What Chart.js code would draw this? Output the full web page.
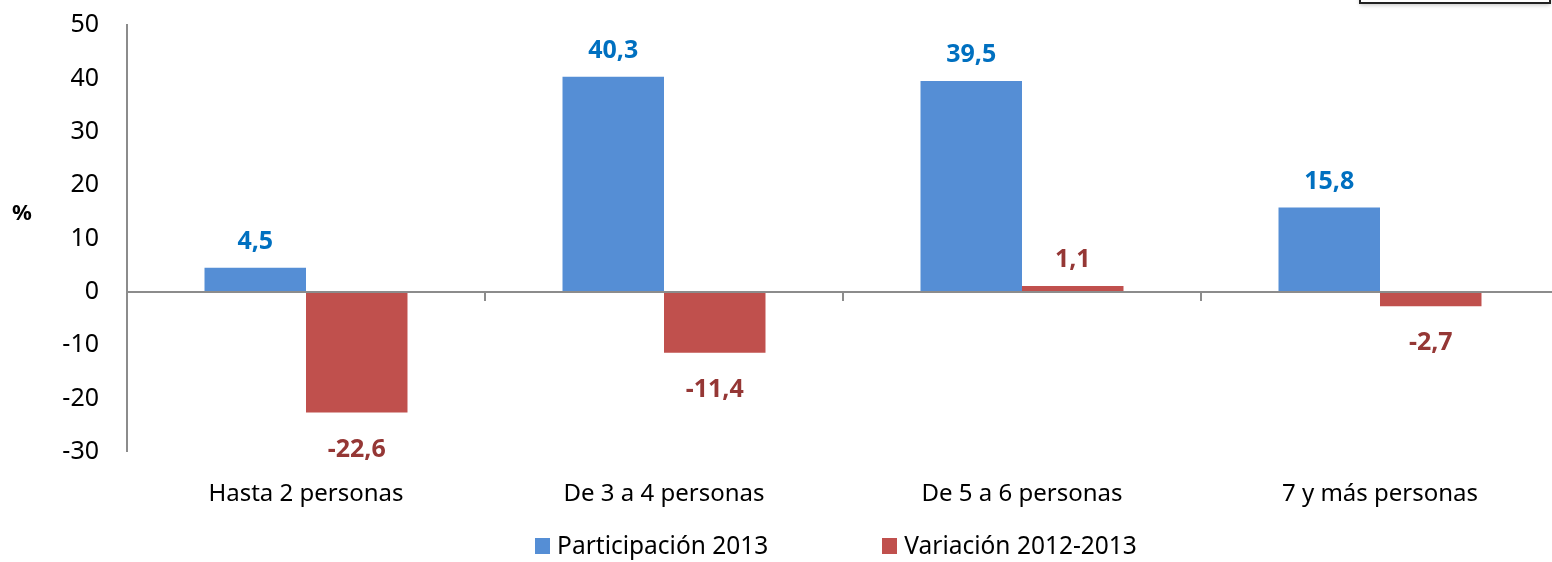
<!DOCTYPE html>
<html>
<head>
<meta charset="utf-8">
<script src="https://cdn.jsdelivr.net/npm/chart.js@4/dist/chart.umd.min.js"></script>
<style>
html,body{margin:0;padding:0;background:#fff;overflow:hidden;}
#wrap{width:1565px;height:562px;position:relative;}
</style>
</head>
<body>
<div id="wrap"><canvas id="c" width="1565" height="562"></canvas></div>
<script>
const categories = ["Hasta 2 personas", "De 3 a 4 personas", "De 5 a 6 personas", "7 y más personas"];
const participacion2013 = [4.5, 40.3, 39.5, 15.8];
const variacion2012_2013 = [-22.6, -11.4, 1.1, -2.7];
const seriesNames = ["Participación 2013", "Variación 2012-2013"];
const seriesColors = ["#558ED5", "#C0504D"];
const labelColors = ["#0070C0", "#953735"];
const yTicks = [-30, -20, -10, 0, 10, 20, 30, 40, 50];

const FONT = "'Noto Sans', sans-serif";

const fmt = v => v.toFixed(1).replace('.', ',');

const extras = {
  id: 'extras',
  afterDraw(chart) {
    const ctx = chart.ctx;
    const x = chart.scales.x, y = chart.scales.y;
    const y0 = y.getPixelForValue(0);
    ctx.save();
    // category boundary tick marks on zero line
    ctx.strokeStyle = '#8c8c8c';
    ctx.lineWidth = 2;
    const n = categories.length;
    for (let i = 1; i < n; i++) {
      const bx = (x.getPixelForValue(i - 1) + x.getPixelForValue(i)) / 2;
      ctx.beginPath();
      ctx.moveTo(Math.round(bx), y0);
      ctx.lineTo(Math.round(bx), y0 + 9);
      ctx.stroke();
    }
    // % label
    ctx.fillStyle = '#000';
    ctx.font = "bold 22px " + FONT;
    ctx.textAlign = 'center';
    ctx.textBaseline = 'middle';
    ctx.fillText('%', 22, 214);
    // data labels
    ctx.font = "bold 25px " + FONT;
    chart.data.datasets.forEach((ds, di) => {
      const meta = chart.getDatasetMeta(di);
      meta.data.forEach((bar, i) => {
        const v = ds.data[i];
        ctx.fillStyle = labelColors[di];
        const ly = v >= 0 ? bar.y - 26 : bar.y + 37;
        ctx.fillText(fmt(v), bar.x, ly);
      });
    });
    // legend
    ctx.font = "24.5px " + FONT;
    ctx.textAlign = 'left';
    const box = 15, gapText = 7, gapItem = 114;
    const w0 = ctx.measureText(seriesNames[0]).width;
    const w1 = ctx.measureText(seriesNames[1]).width;
    const total = box + gapText + w0 + gapItem + box + gapText + w1;
    let lx = 836 - total / 2;
    const ly = 546;
    seriesNames.forEach((name, i) => {
      ctx.fillStyle = seriesColors[i];
      ctx.fillRect(Math.round(lx), ly - 8, box, box + 1);
      ctx.fillStyle = '#000';
      ctx.fillText(name, lx + box + gapText, ly + 1);
      lx += box + gapText + (i === 0 ? w0 : w1) + gapItem;
    });
    // cut-off box at top right
    ctx.shadowColor = 'rgba(0,0,0,0.25)';
    ctx.shadowBlur = 4;
    ctx.shadowOffsetY = 2;
    ctx.fillStyle = '#fff';
    ctx.fillRect(1360, -10, 190, 13);
    ctx.shadowColor = 'transparent';
    ctx.strokeStyle = '#222';
    ctx.lineWidth = 2;
    ctx.strokeRect(1360, -10, 190, 13);
    ctx.restore();
  }
};

new Chart(document.getElementById('c'), {
  type: 'bar',
  data: {
    labels: categories,
    datasets: [
      { label: seriesNames[0], data: participacion2013, backgroundColor: seriesColors[0], borderWidth: 0 },
      { label: seriesNames[1], data: variacion2012_2013, backgroundColor: seriesColors[1], borderWidth: 0 }
    ]
  },
  options: {
    responsive: false,
    animation: false,
    devicePixelRatio: 1,
    layout: { padding: { top: 25, left: 0, right: 6, bottom: 0 } },
    datasets: { bar: { categoryPercentage: 0.567, barPercentage: 1.0 } },
    plugins: {
      tooltip: { enabled: false },
      legend: { display: false }
    },
    scales: {
      x: {
        grid: { display: false },
        border: { display: false },
        ticks: { font: { family: FONT, size: 24 }, color: '#000', padding: 20, maxRotation: 0 },
        afterFit(s) { s.height = 110; }
      },
      y: {
        min: -30, max: 50,
        afterBuildTicks(s) { s.ticks = yTicks.map(v => ({ value: v })); },
        afterFit(s) { s.width = 127; },
        grid: {
          drawTicks: true,
          tickLength: 28,
          tickColor: 'rgba(0,0,0,0)',
          color: c => (c.tick && c.tick.value === 0) ? '#8c8c8c' : 'rgba(0,0,0,0)',
          lineWidth: c => (c.tick && c.tick.value === 0) ? 2 : 0
        },
        border: { display: true, color: '#8c8c8c', width: 2 },
        ticks: { font: { family: FONT, size: 25 }, color: '#000', padding: 0 }
      }
    }
  },
  plugins: [extras]
});
</script>
</body>
</html>
